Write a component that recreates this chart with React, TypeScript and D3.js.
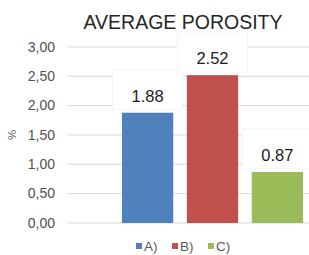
import React from 'react'
import * as d3 from 'd3'

const series = ['A)', 'B)', 'C)']
const values = [1.88, 2.52, 0.87]
const colors = ['#4f81bd', '#c0504d', '#9bbb59']
const ticks = [0, 0.5, 1, 1.5, 2, 2.5, 3]

const W = 309
const H = 255

export default function App() {
  // plot area (chart is cropped on the right, like the picture)
  const y = d3.scaleLinear().domain([0, 3]).range([223, 47])
  const x = d3.scaleBand().domain(series).range([120, 305]).paddingInner(0.21).paddingOuter(0.03)
  const fmt = (v: number) => v.toFixed(2).replace('.', ',')
  const font = '"Liberation Sans", Arial, sans-serif'

  return (
    <svg width={W} height={H} style={{ position: 'absolute', left: 0, top: 0, fontFamily: font }}>
      <rect width={W} height={H} fill="#fff" />
      <text x={183} y={28.5} textAnchor="middle" fontSize={19.5} fill="#262626">AVERAGE POROSITY</text>

      {ticks.map(t => (
        <g key={t}>
          <line x1={68} x2={W} y1={y(t)} y2={y(t)} stroke="#d9d9d9" strokeWidth={1} />
          <text x={55} y={y(t) + 4.8} textAnchor="end" fontSize={14} fill="#505050">{fmt(t)}</text>
        </g>
      ))}

      <text transform={`translate(16,${y(1.5)}) rotate(-90)`} textAnchor="middle" fontSize={11.5} fill="#595959">%</text>

      {series.map((s, i) => {
        const bx = x(s) as number
        const bw = x.bandwidth()
        const top = y(values[i])
        const cx = bx + bw / 2
        return (
          <g key={s}>
            <rect x={bx} y={top} width={bw} height={y(0) - top} fill={colors[i]} />
            <rect x={cx - 35} y={top - 43} width={70} height={40} fill="#fff" stroke="#f4f4f4" />
            <text x={cx} y={top - 11} textAnchor="middle" fontSize={16.5} fill="#1a1a1a">{values[i].toFixed(2)}</text>
          </g>
        )
      })}

      {series.map((s, i) => {
        const lx = 136 + i * 36
        return (
          <g key={'l' + s}>
            <rect x={lx} y={243} width={6} height={6} fill={colors[i]} />
            <text x={lx + 8} y={250.5} fontSize={13.5} fill="#595959">{s}</text>
          </g>
        )
      })}
    </svg>
  )
}
